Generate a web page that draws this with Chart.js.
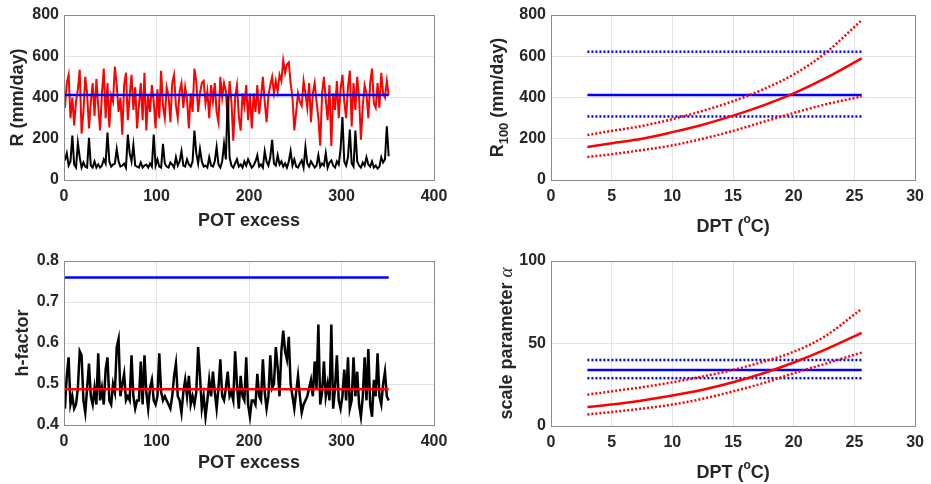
<!DOCTYPE html>
<html>
<head>
<meta charset="utf-8">
<script src="https://cdn.jsdelivr.net/npm/chart.js@4.4.1/dist/chart.umd.min.js"></script>
<style>
  body { margin: 0; background: #fff; }
  .panel { position: absolute; }
</style>
</head>
<body>
<div class="panel" style="left:0;top:0;width:465px;height:240px"><canvas id="rSeries"></canvas></div>
<div class="panel" style="left:465px;top:0;width:466px;height:240px"><canvas id="r100"></canvas></div>
<div class="panel" style="left:0;top:240px;width:465px;height:244px"><canvas id="hFactor"></canvas></div>
<div class="panel" style="left:465px;top:240px;width:466px;height:244px"><canvas id="alpha"></canvas></div>
<script>
'use strict';
// POT excess events, one value for every 2nd event (1, 3, 5 ... 351)
const rRed = [
    350, 470, 510, 300, 400, 265, 380, 440, 535, 225,
    330, 500, 420, 250, 380, 470, 310, 490, 360, 240,
    420, 540, 300, 470, 255, 410, 380, 550, 460, 330,
    400, 220, 460, 520, 290, 410, 510, 340, 450, 250,
    360, 470, 290, 520, 240, 410, 330, 460, 380, 250,
    440, 300, 530, 360, 300, 450, 410, 280, 470, 510,
    360, 300, 430, 470, 350, 450, 390, 250, 420, 330,
    540, 480, 330, 420, 470, 480, 370, 430, 300, 460,
    380, 470, 330, 280, 500, 400, 470, 430, 280, 480,
    380, 190, 400, 460, 310, 240, 420, 360, 460, 290,
    420, 250, 420, 330, 460, 320, 400, 500, 380, 280,
    410, 460, 500, 420, 480, 430, 510, 480, 580, 520,
    560, 570, 470, 400, 240, 330, 420, 380, 360, 480,
    420, 350, 470, 280, 420, 470, 380, 300, 166, 420,
    500, 390, 290, 460, 165, 420, 340, 480, 300, 440,
    510, 380, 300, 450, 530, 260, 470, 340, 500, 400,
    195, 360, 460, 420, 300, 470, 540, 370, 350, 470,
    350, 520, 420, 400, 480, 410
];
const rBlack = [
    95, 130, 70, 90, 215, 75, 60, 180, 110, 60,
    85, 65, 60, 205, 70, 60, 90, 60, 75, 60,
    70, 100, 80, 230, 90, 65, 75, 80, 150, 90,
    65, 70, 80, 60, 220, 130, 90, 170, 70, 65,
    60, 85, 60, 70, 75, 60, 80, 65, 220, 70,
    100, 65, 60, 175, 80, 65, 60, 85, 75, 60,
    110, 70, 90, 140, 70, 65, 100, 75, 65, 90,
    240, 130, 80, 150, 90, 65, 70, 60, 110, 70,
    65, 90, 160, 75, 60, 90, 175, 100, 410, 110,
    70, 60, 80, 100, 65, 75, 60, 90, 70, 100,
    80, 60, 70, 90, 120, 65, 75, 60, 140, 90,
    70, 110, 195, 80, 70, 120, 75, 90, 65, 80,
    60, 90, 140, 70, 100, 65, 60, 80, 95, 60,
    160, 80, 65, 90, 75, 60, 70, 120, 65, 80,
    70, 130, 60, 85, 95, 70, 60, 90, 75, 150,
    305, 90, 70, 110, 245, 80, 65, 240, 90, 70,
    60, 85, 70, 110, 75, 65, 90, 60, 70, 55,
    65, 110, 85, 100, 260, 115
];
const hFactor = [
    0.44, 0.52, 0.565, 0.45, 0.47, 0.44, 0.45, 0.49, 0.58, 0.57,
    0.46, 0.43, 0.49, 0.55, 0.47, 0.45, 0.49, 0.45, 0.575, 0.46,
    0.49, 0.45, 0.535, 0.565, 0.46, 0.45, 0.50, 0.48, 0.59, 0.61,
    0.47, 0.50, 0.525, 0.46, 0.47, 0.46, 0.57, 0.47, 0.44, 0.46,
    0.46, 0.555, 0.45, 0.57, 0.48, 0.44, 0.49, 0.51, 0.46, 0.45,
    0.47, 0.575, 0.48, 0.46, 0.47, 0.46, 0.45, 0.44, 0.47, 0.52,
    0.55, 0.47, 0.46, 0.43, 0.48, 0.51, 0.47, 0.52, 0.45, 0.47,
    0.45, 0.48, 0.59, 0.52, 0.44, 0.47, 0.42, 0.46, 0.51, 0.47,
    0.53, 0.48, 0.44, 0.49, 0.56, 0.47, 0.46, 0.49, 0.53, 0.47,
    0.48, 0.46, 0.58, 0.50, 0.44, 0.52, 0.47, 0.46, 0.565, 0.45,
    0.42, 0.46, 0.46, 0.45, 0.525, 0.47, 0.46, 0.56, 0.48, 0.44,
    0.47, 0.57, 0.49, 0.50, 0.59, 0.54, 0.47, 0.58, 0.63, 0.58,
    0.56, 0.615, 0.50, 0.47, 0.44, 0.48, 0.52, 0.47, 0.43, 0.45,
    0.46, 0.47, 0.49, 0.51, 0.47, 0.555, 0.49, 0.645, 0.45, 0.48,
    0.555, 0.47, 0.50, 0.46, 0.645, 0.44, 0.49, 0.57, 0.46, 0.44,
    0.47, 0.535, 0.46, 0.565, 0.44, 0.46, 0.565, 0.47, 0.53, 0.45,
    0.42, 0.47, 0.565, 0.46, 0.585, 0.45, 0.42, 0.51, 0.47, 0.575,
    0.47, 0.45, 0.50, 0.53, 0.47, 0.46
];
const rStationary = 412;
const hStationary = 0.76;
const hMean = 0.487;

// dew point temperature (oC)
const dpt = [3, 5, 7.5, 10, 12.5, 15, 17.5, 20, 22.5, 25.6];
const r100 = [160, 178, 200, 232, 268, 312, 362, 420, 490, 590];
const r100Hi = [218, 238, 262, 295, 335, 382, 440, 512, 610, 775];
const r100Lo = [112, 125, 145, 168, 200, 238, 282, 325, 365, 405];
const r100Const = [308, 412, 622];
const alpha = [11.5, 13, 15.5, 18.5, 22, 26.5, 32, 38.5, 46, 56.5];
const alphaHi = [19, 21, 23.5, 26.5, 30, 34, 39, 45, 54, 71];
const alphaLo = [7, 8.5, 10.5, 13, 16.5, 21, 26, 32, 37.5, 44.5];
const alphaConst = [29, 34, 40];

const ink = '#262626';
const family = '"Liberation Sans", Arial, sans-serif';
const potX = rRed.map((v, i) => 1 + 2 * i);

const pts = (xs, ys) => xs.map((x, i) => ({x, y: ys[i]}));
const flat = (xs, v) => [{x: xs[0], y: v}, {x: xs[xs.length - 1], y: v}];
const line = (data, color, width, dash, smooth) => ({
    data,
    borderColor: color,
    borderWidth: width,
    borderDash: dash || [],
    pointRadius: 0,
    tension: smooth ? 0.4 : 0,
    cubicInterpolationMode: smooth ? 'monotone' : 'default',
    fill: false
});

const drawRich = (ctx, parts, cx, cy, rot) => {
    ctx.save();
    ctx.translate(cx, cy);
    ctx.rotate(rot);
    ctx.textBaseline = 'middle';
    ctx.fillStyle = ink;
    let total = 0;
    parts.forEach(p => { ctx.font = p.font; p.w = ctx.measureText(p.text).width; total += p.w; });
    let x = -total / 2;
    parts.forEach(p => { ctx.font = p.font; ctx.fillText(p.text, x, p.dy || 0); x += p.w; });
    ctx.restore();
};

// box round the plot area plus the axis titles (they need sub/superscripts)
const frame = {
    id: 'frame',
    afterDraw(chart, args, opts) {
        const {ctx, chartArea: a} = chart;
        ctx.save();
        ctx.strokeStyle = '#8a8a8a';
        ctx.lineWidth = 1;
        ctx.strokeRect(Math.round(a.left) + 0.5, Math.round(a.top) + 0.5, Math.round(a.width), Math.round(a.height));
        ctx.restore();
        drawRich(ctx, opts.x, (a.left + a.right) / 2, a.bottom + opts.xOff, 0);
        drawRich(ctx, opts.y, opts.yX, (a.top + a.bottom) / 2, -Math.PI / 2);
    }
};

const tickFont = {family, size: 16, weight: 'bold'};
const titleFont = 'bold 18px ' + family;
const t = text => ({text, font: titleFont});
const potTitle = [t('POT excess')];
const dptTitle = [t('DPT ('), {text: 'o', font: 'bold 12px ' + family, dy: -7}, t('C)')];

const axis = (min, max, step, size, side) => ({
    type: 'linear',
    min, max,
    ticks: {stepSize: step, font: tickFont, color: ink, padding: side === 'x' ? 7 : 5, maxRotation: 0, autoSkip: false},
    grid: {color: '#e3e3e3', drawTicks: false},
    border: {display: false},
    afterFit: s => { if (side === 'x') s.height = size; else s.width = size; }
});

const panel = (id, box, x, y, datasets, titles) => new Chart(document.getElementById(id), {
    type: 'line',
    data: {datasets},
    options: {
        animation: false,
        responsive: true,
        maintainAspectRatio: false,
        layout: {padding: {top: box.top, right: box.right, left: 0, bottom: 0}},
        scales: {x, y},
        plugins: {legend: {display: false}, tooltip: {enabled: false}, frame: titles}
    },
    plugins: [frame]
});

panel('rSeries', {top: 15, right: 31},
    axis(0, 400, 100, 60, 'x'), axis(0, 800, 200, 64, 'y'),
    [
        line(flat(potX, rStationary), '#0000ff', 2.5),
        line(pts(potX, rBlack), '#000000', 2),
        line(pts(potX, rRed), '#ff0000', 2)
    ],
    {x: potTitle, xOff: 41, y: [t('R (mm/day)')], yX: 18});

panel('r100', {top: 15, right: 11},
    axis(0, 30, 5, 60, 'x'), axis(0, 800, 200, 86, 'y'),
    [
        line(pts(dpt, r100), '#ff0000', 2.5, null, true),
        line(pts(dpt, r100Hi), '#ff0000', 2.5, [2, 2], true),
        line(pts(dpt, r100Lo), '#ff0000', 2.5, [2, 2], true),
        line(flat(dpt, r100Const[1]), '#0000ff', 2.5),
        line(flat(dpt, r100Const[2]), '#0000ff', 2.5, [2, 2]),
        line(flat(dpt, r100Const[0]), '#0000ff', 2.5, [2, 2])
    ],
    {x: dptTitle, xOff: 47,
     y: [t('R'), {text: '100', font: 'bold 13px ' + family, dy: 6}, t(' (mm/day)')], yX: 33});

panel('hFactor', {top: 21, right: 31},
    axis(0, 400, 100, 59, 'x'), axis(0.4, 0.8, 0.1, 64, 'y'),
    [
        line(flat(potX, hMean), '#ff0000', 2.5),
        line(flat(potX, hStationary), '#0000ff', 2.5),
        line(pts(potX, hFactor), '#000000', 2.5)
    ],
    {x: potTitle, xOff: 38, y: [t('h-factor')], yX: 23});

panel('alpha', {top: 21, right: 11},
    axis(0, 30, 5, 58, 'x'), axis(0, 100, 50, 86, 'y'),
    [
        line(pts(dpt, alpha), '#ff0000', 2.5, null, true),
        line(pts(dpt, alphaHi), '#ff0000', 2.5, [2, 2], true),
        line(pts(dpt, alphaLo), '#ff0000', 2.5, [2, 2], true),
        line(flat(dpt, alphaConst[1]), '#0000ff', 2.5),
        line(flat(dpt, alphaConst[2]), '#0000ff', 2.5, [2, 2]),
        line(flat(dpt, alphaConst[0]), '#0000ff', 2.5, [2, 2])
    ],
    {x: dptTitle, xOff: 47,
     y: [t('scale parameter '), {text: 'α', font: 'italic 19px "Liberation Serif", serif', dy: 0}], yX: 42});
</script>
</body>
</html>
